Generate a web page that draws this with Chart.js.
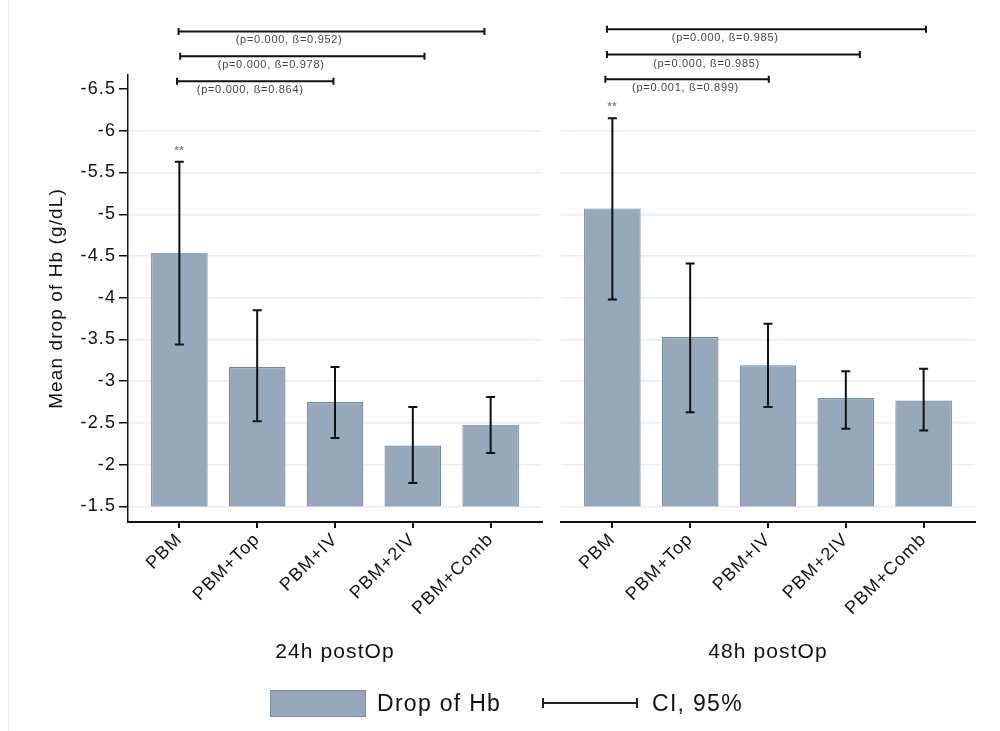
<!DOCTYPE html>
<html>
<head>
<meta charset="utf-8">
<script src="https://cdn.jsdelivr.net/npm/chart.js@4.4.1/dist/chart.umd.min.js"></script>
<style>
  html, body { margin: 0; padding: 0; background: #fff; }
  body { width: 1000px; height: 731px; position: relative; overflow: hidden;
         font-family: "Liberation Sans", Arial, sans-serif; }
  #frame { position: absolute; left: 8px; top: 0; width: 0; height: 731px; border-left: 1px solid #e6eef0; }
  #c24 { position: absolute; left: 0; top: 0; }
  #c48 { position: absolute; left: 552px; top: 0; }
  .lg { position: absolute; color: #111; font-size: 23px; letter-spacing: 1.3px; line-height: 28px; }
  #lgBox { position: absolute; left: 270px; top: 690px; width: 94px; height: 25px;
           background: #96a8b9; border: 1px solid #7a8ea3; }
  #lgCi { position: absolute; left: 542px; top: 698px; width: 96px; height: 10px; }
  #lgCi .line { position: absolute; left: 0; top: 4px; width: 96px; height: 2px; background: #222; }
  #lgCi .cap { position: absolute; top: 0; width: 2px; height: 10px; background: #222; }
</style>
</head>
<body>
<div id="frame"></div>
<canvas id="c24" width="552" height="731"></canvas>
<canvas id="c48" width="448" height="731"></canvas>

<div id="lgBox"></div>
<div class="lg" style="left:377px; top:689px;">Drop of Hb</div>
<div id="lgCi"><div class="line"></div><div class="cap" style="left:0"></div><div class="cap" style="left:94px"></div></div>
<div class="lg" style="left:652px; top:689px;">CI, 95%</div>

<script>
// Groups and axis ticks
const categories = ['PBM', 'PBM+Top', 'PBM+IV', 'PBM+2IV', 'PBM+Comb'];
const yTicks = [-6.5, -6, -5.5, -5, -4.5, -4, -3.5, -3, -2.5, -2, -1.5];
const barBase = -1.5;

// 24h post-op: mean drop of Hb (g/dL) with 95% CI
const mean24 = [-4.54, -3.17, -2.75, -2.23, -2.48];
const ciLow24 = [-3.44, -2.52, -2.32, -1.78, -2.14];
const ciHigh24 = [-5.63, -3.85, -3.17, -2.69, -2.81];

// 48h post-op: mean drop of Hb (g/dL) with 95% CI
const mean48 = [-5.07, -3.53, -3.19, -2.80, -2.77];
const ciLow48 = [-3.98, -2.63, -2.69, -2.43, -2.41];
const ciHigh48 = [-6.15, -4.41, -3.69, -3.12, -3.15];

// Pairwise comparisons drawn above each panel
const compLabels24 = ['(p=0.000, ß=0.952)', '(p=0.000, ß=0.978)', '(p=0.000, ß=0.864)'];
const compFrom24 = [0.99, 1.01, 0.97];
const compTo24 = [4.92, 4.15, 2.98];
const compLevel24 = [-7.19, -6.894, -6.593];
const compTextX24 = [2.41, 2.18, 1.91];

const compLabels48 = ['(p=0.000, ß=0.985)', '(p=0.000, ß=0.985)', '(p=0.001, ß=0.899)'];
const compFrom48 = [0.93, 0.93, 0.91];
const compTo48 = [5.03, 4.18, 3.01];
const compLevel48 = [-7.215, -6.913, -6.616];
const compTextX48 = [2.45, 2.21, 1.94];

const FONT = '"Liberation Sans", Arial, sans-serif';
const BAR_FILL = '#96a8b9';
const BAR_EDGE = '#74889e';

const spacing = {
  id: 'spacing',
  beforeLayout(chart) { chart.ctx.letterSpacing = '1.1px'; },
  beforeDraw(chart) { chart.ctx.letterSpacing = '1.1px'; }
};

function panel(canvasId, cfg) {
  const errorBars = {
    id: 'errorBars',
    afterDatasetsDraw(chart) {
      const { ctx, scales: { x, y } } = chart;
      ctx.save();
      ctx.strokeStyle = '#111';
      ctx.lineWidth = 2;
      cfg.mean.forEach((m, i) => {
        const px = x.getPixelForValue(i + 1);
        const lo = y.getPixelForValue(cfg.ciLow[i]);
        const hi = y.getPixelForValue(cfg.ciHigh[i]);
        ctx.beginPath();
        ctx.moveTo(px, lo); ctx.lineTo(px, hi);
        ctx.moveTo(px - 4.5, lo); ctx.lineTo(px + 4.5, lo);
        ctx.moveTo(px - 4.5, hi); ctx.lineTo(px + 4.5, hi);
        ctx.stroke();
      });
      // significance mark above the first group
      const sx = x.getPixelForValue(1);
      const sy = y.getPixelForValue(cfg.ciHigh[0]) - 11;
      ctx.letterSpacing = '0.5px';
      ctx.fillStyle = '#7d858f';
      ctx.font = 'bold 11px ' + FONT;
      ctx.textAlign = 'center';
      ctx.textBaseline = 'middle';
      ctx.fillText('**', sx, sy);

      // comparison brackets
      ctx.strokeStyle = '#111';
      ctx.lineWidth = 2;
      cfg.compLabels.forEach((label, k) => {
        const x1 = x.getPixelForValue(cfg.compFrom[k]);
        const x2 = x.getPixelForValue(cfg.compTo[k]);
        const ly = y.getPixelForValue(cfg.compLevel[k]);
        ctx.beginPath();
        ctx.moveTo(x1, ly); ctx.lineTo(x2, ly);
        ctx.moveTo(x1, ly - 3.5); ctx.lineTo(x1, ly + 3.5);
        ctx.moveTo(x2, ly - 3.5); ctx.lineTo(x2, ly + 3.5);
        ctx.stroke();
        ctx.fillStyle = '#3f454c';
        ctx.font = '11px ' + FONT;
        ctx.letterSpacing = '0.7px';
        ctx.fillText(label, x.getPixelForValue(cfg.compTextX[k]), ly + 9);
      });
      ctx.restore();
    }
  };

  return new Chart(document.getElementById(canvasId), {
    type: 'bar',
    data: {
      datasets: [{
        label: 'Drop of Hb',
        data: cfg.mean.map((v, i) => ({ x: i + 1, y: [barBase, v] })),
        backgroundColor: BAR_FILL,
        borderColor: BAR_EDGE,
        borderWidth: 1.2,
        borderSkipped: false,
        barPercentage: 0.727,
        categoryPercentage: 1
      }]
    },
    options: {
      responsive: false,
      animation: false,
      layout: { padding: cfg.padding },
      plugins: { legend: { display: false }, tooltip: { enabled: false } },
      scales: {
        x: {
          type: 'linear',
          offset: false,
          min: 0.34, max: 5.66,
          afterBuildTicks: s => { s.ticks = categories.map((c, i) => ({ value: i + 1 })); },
          afterFit: s => { s.height = 200; },
          ticks: {
            autoSkip: false, minRotation: 45, maxRotation: 45,
            padding: 1, color: '#111',
            font: { family: FONT, size: 18 },
            callback: v => categories[Math.round(v) - 1]
          },
          grid: { offset: false, drawOnChartArea: false, drawTicks: true, tickColor: '#111', tickLength: 6, lineWidth: 2 },
          border: { color: '#111', width: 2 },
          title: {
            display: true, text: cfg.title, color: '#111',
            font: { family: FONT, size: 21 },
            padding: { top: 0, bottom: 57 }
          }
        },
        y: {
          type: 'linear',
          reverse: true,
          min: -6.668, max: -1.314,
          afterBuildTicks: s => { s.ticks = yTicks.map(v => ({ value: v })); },
          afterFit: s => { s.width = cfg.showY ? 128 : 0; },
          ticks: {
            display: cfg.showY, color: '#111', padding: 3,
            font: { family: FONT, size: 18 },
            callback: v => String(v)
          },
          grid: {
            color: c => (c.tick && c.tick.value === -6.5) ? 'rgba(0,0,0,0)' : '#e5eef1',
            lineWidth: 1.5,
            drawTicks: cfg.showY, tickColor: '#111', tickLength: 9
          },
          border: { display: cfg.showY, color: '#111', width: 1.5 },
          title: {
            display: cfg.showY, text: 'Mean drop of Hb (g/dL)', color: '#111',
            font: { family: FONT, size: 19 },
            padding: { top: 45, bottom: 0 }
          }
        }
      }
    },
    plugins: [spacing, errorBars]
  });
}

panel('c24', {
  mean: mean24, ciLow: ciLow24, ciHigh: ciHigh24,
  compLabels: compLabels24, compFrom: compFrom24, compTo: compTo24,
  compLevel: compLevel24, compTextX: compTextX24,
  title: '24h postOp', showY: true,
  padding: { left: 0, right: 10, top: 75, bottom: 9 }
});

panel('c48', {
  mean: mean48, ciLow: ciLow48, ciHigh: ciHigh48,
  compLabels: compLabels48, compFrom: compFrom48, compTo: compTo48,
  compLevel: compLevel48, compTextX: compTextX48,
  title: '48h postOp', showY: false,
  padding: { left: 9, right: 25, top: 75, bottom: 9 }
});
</script>
</body>
</html>
